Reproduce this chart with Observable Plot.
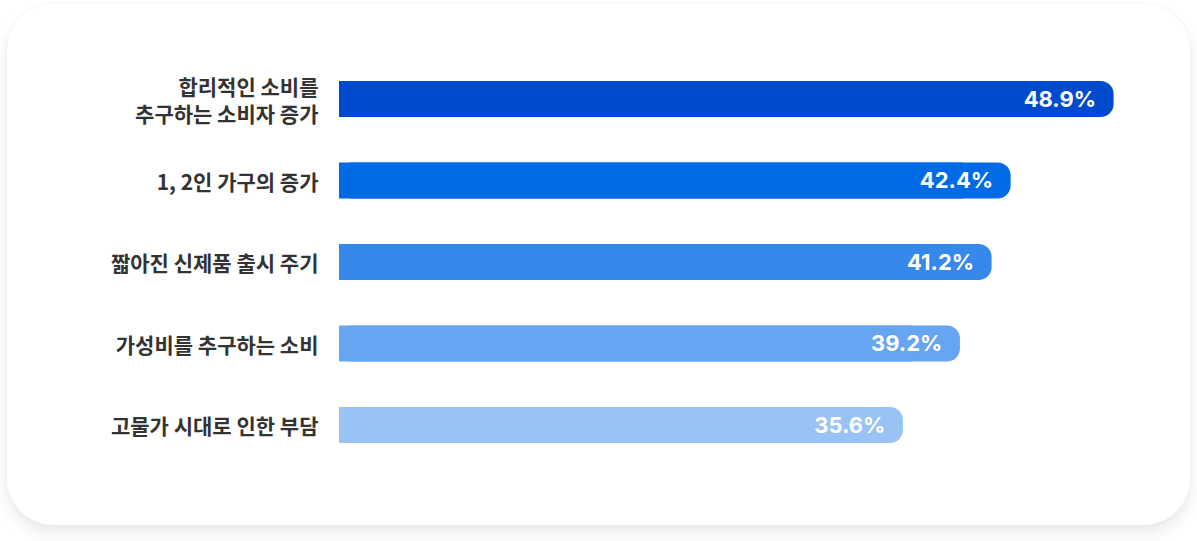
<!DOCTYPE html>
<html>
<head>
<meta charset="utf-8">
<script src="https://cdn.jsdelivr.net/npm/d3@7"></script>
<script src="https://cdn.jsdelivr.net/npm/@observablehq/plot@0.6"></script>
<style>
  html, body { margin: 0; padding: 0; background: #ffffff; }
  #wrap { position: relative; width: 1197px; height: 541px; overflow: hidden; }
  #card {
    position: absolute; left: 7px; top: 4px; width: 1183px; height: 521px;
    background: #ffffff; border-radius: 46px;
    box-shadow: 0 8px 14px rgba(40, 50, 70, 0.10), 0 0 4px rgba(40, 50, 70, 0.04);
  }
  #chart { position: absolute; left: 0; top: 0; }
</style>
</head>
<body>
<div id="wrap">
  <div id="card"></div>
  <div id="chart"></div>
</div>
<script>
const categories = [
  "합리적인 소비를\n추구하는 소비자 증가",
  "1, 2인 가구의 증가",
  "짧아진 신제품 출시 주기",
  "가성비를 추구하는 소비",
  "고물가 시대로 인한 부담"
];
const values = [48.9, 42.4, 41.2, 39.2, 35.6];
const colors = ["#004ACE", "#006BE5", "#3688EA", "#65A5F1", "#99C2F5"];

const rows = categories.map((c, i) => ({ label: c, value: values[i], color: colors[i] }));

const plot = Plot.plot({
  width: 1197,
  height: 541,
  marginLeft: 339,
  marginRight: 66,
  marginTop: 81,
  marginBottom: 98,
  style: { background: "transparent", overflow: "visible" },
  x: { domain: [0, 50], axis: null },
  y: { domain: categories, axis: null, paddingInner: 0.558, paddingOuter: 0, round: false },
  marks: [
    Plot.barX(rows, { y: "label", x1: 0, x2: "value", fill: "color", rx: 13, ry: 13 }),
    Plot.barX(rows, { y: "label", x1: 0, x2: d => d.value - 3, fill: "color" }),
    Plot.text(rows, {
      y: "label", text: "label", frameAnchor: "left", dx: -21, textAnchor: "end",
      fill: "#333333", fontSize: 21, fontWeight: 700, lineHeight: 1.3,
      fontFamily: "'Noto Sans CJK KR', 'Noto Sans', sans-serif"
    }),
    Plot.text(rows, {
      y: "label", x: "value", text: d => d.value.toFixed(1) + "%", textAnchor: "end", dx: -18,
      fill: "#ffffff", fontSize: 22, fontWeight: 700,
      fontFamily: "Inter, Roboto, sans-serif"
    })
  ]
});
document.getElementById("chart").appendChild(plot);
</script>
</body>
</html>
